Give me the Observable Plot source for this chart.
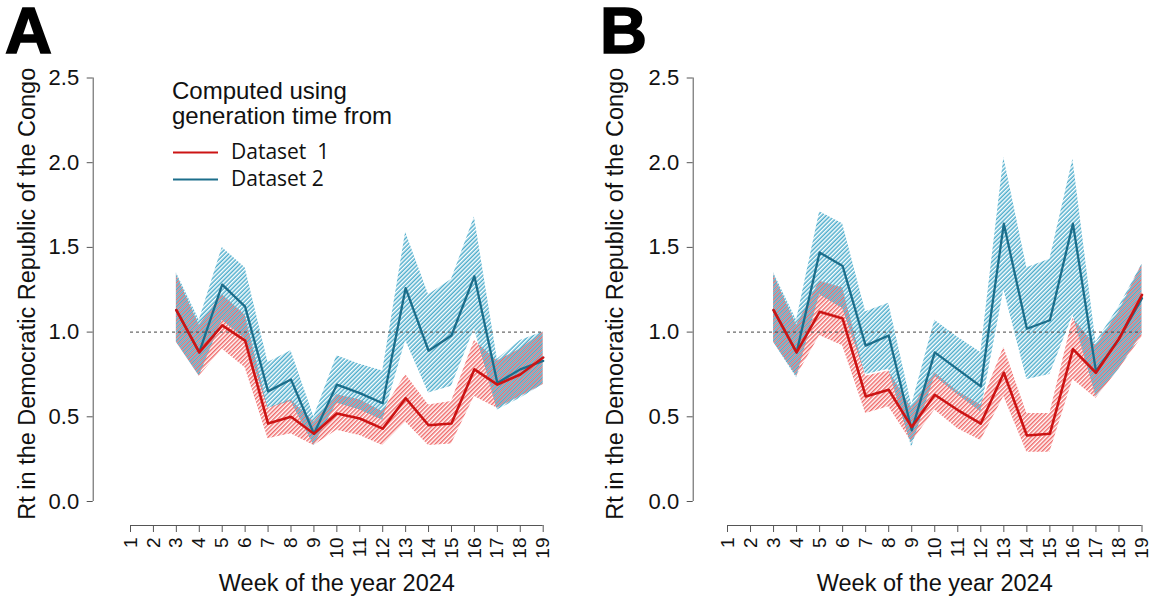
<!DOCTYPE html>
<html>
<head>
<meta charset="utf-8">
<script src="https://cdn.jsdelivr.net/npm/d3@7"></script>
<script src="https://cdn.jsdelivr.net/npm/@observablehq/plot@0.6"></script>
<style>
  body { margin: 0; background: #fff; }
  #wrap { position: relative; width: 1152px; height: 596px; overflow: hidden; }
  .panel { position: absolute; top: 0; width: 576px; height: 596px; }
  #ov { position: absolute; left: 0; top: 0; pointer-events: none; }
</style>
</head>
<body>
<div id="wrap">
  <div class="panel" id="pA" style="left:0"></div>
  <div class="panel" id="pB" style="left:576px"></div>
  <svg id="ov" width="1152" height="596"></svg>
</div>
<script>
// ---- data ----
const weeks = [3, 4, 5, 6, 7, 8, 9, 10, 11, 12, 13, 14, 15, 16, 17, 18, 19];
const weekTicks = [1, 2, 3, 4, 5, 6, 7, 8, 9, 10, 11, 12, 13, 14, 15, 16, 17, 18, 19];
const yTicks = [0, 0.5, 1.0, 1.5, 2.0, 2.5];
const threshold = [1];
const seriesNames = ["Dataset  1", "Dataset 2"];
const seriesColors = ["#cc1414", "#1c6e8b"];
const legendTitle = ["Computed using", "generation time from"];
const panelLetters = ["A", "B"];
const yTitle = "Rt in the Democratic Republic of the Congo";
const xTitle = "Week of the year 2024";

// Panel A
const A_d1_mean = [1.13, 0.88, 1.04, 0.95, 0.46, 0.50, 0.40, 0.52, 0.49, 0.43, 0.61, 0.45, 0.46, 0.78, 0.69, 0.75, 0.85];
const A_d1_lo   = [0.94, 0.74, 0.90, 0.79, 0.37, 0.40, 0.33, 0.42, 0.39, 0.33, 0.47, 0.33, 0.34, 0.62, 0.55, 0.62, 0.69];
const A_d1_hi   = [1.34, 1.04, 1.22, 1.10, 0.55, 0.60, 0.47, 0.63, 0.60, 0.53, 0.75, 0.57, 0.59, 0.95, 0.83, 0.90, 1.00];
const A_d2_mean = [1.13, 0.88, 1.28, 1.15, 0.65, 0.72, 0.40, 0.69, 0.64, 0.58, 1.26, 0.89, 0.98, 1.33, 0.70, 0.78, 0.83];
const A_d2_lo   = [0.94, 0.74, 1.07, 0.96, 0.55, 0.59, 0.33, 0.58, 0.54, 0.48, 0.95, 0.64, 0.68, 1.02, 0.54, 0.61, 0.69];
const A_d2_hi   = [1.35, 1.07, 1.50, 1.38, 0.82, 0.89, 0.50, 0.86, 0.81, 0.77, 1.59, 1.22, 1.31, 1.68, 0.84, 0.95, 1.00];
// Panel B
const B_d1_mean = [1.13, 0.88, 1.12, 1.08, 0.62, 0.66, 0.44, 0.63, 0.54, 0.46, 0.76, 0.39, 0.40, 0.90, 0.76, 0.96, 1.22];
const B_d1_lo   = [0.94, 0.74, 0.98, 0.92, 0.52, 0.56, 0.35, 0.54, 0.43, 0.36, 0.62, 0.29, 0.29, 0.72, 0.61, 0.78, 0.97];
const B_d1_hi   = [1.34, 1.04, 1.30, 1.26, 0.74, 0.77, 0.55, 0.76, 0.65, 0.57, 0.91, 0.52, 0.52, 1.08, 0.92, 1.12, 1.40];
const B_d2_mean = [1.13, 0.88, 1.47, 1.39, 0.92, 0.98, 0.42, 0.88, 0.78, 0.68, 1.64, 1.02, 1.07, 1.64, 0.77, 0.96, 1.20];
const B_d2_lo   = [0.94, 0.73, 1.22, 1.14, 0.75, 0.78, 0.32, 0.74, 0.63, 0.53, 1.25, 0.72, 0.75, 1.10, 0.62, 0.78, 0.99];
const B_d2_hi   = [1.35, 1.07, 1.71, 1.64, 1.12, 1.17, 0.57, 1.07, 0.97, 0.88, 2.03, 1.38, 1.43, 2.02, 0.94, 1.15, 1.40];

const FONT = "'Liberation Sans', Arial, Helvetica, sans-serif";
const NS = "http://www.w3.org/2000/svg";

function rows(m, lo, hi) {
  return weeks.map((w, i) => ({week: w, mean: m[i], lo: lo[i], hi: hi[i]}));
}

function defsMark(id) {
  return () => {
    const defs = document.createElementNS(NS, "defs");
    defs.innerHTML =
      `<pattern id="hr${id}" patternUnits="userSpaceOnUse" width="3" height="3" patternTransform="rotate(45)">
         <line x1="0.75" y1="0" x2="0.75" y2="3" stroke="#ee6262" stroke-width="1.5" stroke-opacity="0.95"/>
       </pattern>
       <pattern id="hb${id}" patternUnits="userSpaceOnUse" width="3" height="3" patternTransform="rotate(45)">
         <line x1="2.25" y1="0" x2="2.25" y2="3" stroke="#3aa3c6" stroke-width="1.5" stroke-opacity="0.9"/>
       </pattern>`;
    return defs;
  };
}

function panel(id, r1, r2, o) {
  return Plot.plot({
    width: 576, height: 596,
    marginLeft: o.ml, marginRight: o.mr, marginTop: 77.5, marginBottom: 71,
    insetLeft: o.il, insetBottom: 24,
    x: {domain: [weekTicks[0], weekTicks[weekTicks.length - 1]]},
    y: {domain: [yTicks[0], yTicks[yTicks.length - 1]]},
    style: {fontFamily: FONT, fontSize: "22px", color: "#111", overflow: "visible", background: "transparent"},
    marks: [
      defsMark(id),
      Plot.areaY(r1, {x: "week", y1: "lo", y2: "hi", fill: `url(#hr${id})`}),
      Plot.areaY(r2, {x: "week", y1: "lo", y2: "hi", fill: `url(#hb${id})`}),
      Plot.ruleY(threshold, {x1: weekTicks[0], x2: weekTicks[weekTicks.length - 1], stroke: "#444", strokeWidth: 1, strokeDasharray: "3,3"}),
      Plot.lineY(r2, {x: "week", y: "mean", stroke: seriesColors[1], strokeWidth: 2.3}),
      Plot.lineY(r1, {x: "week", y: "mean", stroke: seriesColors[0], strokeWidth: 2.6}),
      Plot.axisY({ticks: yTicks, tickFormat: d3.format(".1f"), tickSize: 6, tickPadding: 8, fontSize: 22, label: null, stroke: "#555"}),
      Plot.axisX({ticks: weekTicks, tickFormat: d => String(d), tickSize: 7, tickPadding: 5, tickRotate: -90, fontSize: 19, label: null, stroke: "#555"}),
      Plot.ruleX([weekTicks[0]], {y1: yTicks[0], y2: yTicks[yTicks.length - 1], dx: -o.il, stroke: "#555", strokeWidth: 1}),
      Plot.ruleY([yTicks[0]], {x1: weekTicks[0], x2: weekTicks[weekTicks.length - 1], dy: 24, stroke: "#555", strokeWidth: 1}),
      Plot.text([yTitle], {frameAnchor: "left", textAnchor: "middle", lineAnchor: "middle", text: d => d, rotate: -90, dx: o.tdx, dy: -8, fontSize: 23.5, fill: "#111"}),
      Plot.text([xTitle], {x: () => (weekTicks[0] + weekTicks[weekTicks.length - 1]) / 2, frameAnchor: "bottom", textAnchor: "middle", lineAnchor: "middle", text: d => d, dy: 57.5, fontSize: 23.5, fill: "#111"})
    ]
  });
}

document.getElementById("pA").appendChild(
  panel("A", rows(A_d1_mean, A_d1_lo, A_d1_hi), rows(A_d2_mean, A_d2_lo, A_d2_hi), {ml: 92.7, mr: 33.3, il: 37.3, tdx: -65.7})
);
document.getElementById("pB").appendChild(
  panel("B", rows(B_d1_mean, B_d1_lo, B_d1_hi), rows(B_d2_mean, B_d2_lo, B_d2_hi), {ml: 116.7, mr: 10.5, il: 34.3, tdx: -78})
);

// overlay: panel letters and legend
const ov = document.getElementById("ov");
function addText(x, y, txt, attrs) {
  const t = document.createElementNS(NS, "text");
  t.setAttribute("x", x); t.setAttribute("y", y);
  for (const k in attrs) t.setAttribute(k, attrs[k]);
  t.setAttribute("xml:space", "preserve");
  t.style.whiteSpace = "pre";
  t.textContent = txt;
  ov.appendChild(t);
}
[[5, 53], [600, 53]].forEach(([x, y], i) =>
  addText(x, y, panelLetters[i], {"font-family": FONT, "font-size": 65, "font-weight": "bold", fill: "#000", stroke: "#000", "stroke-width": 1.6}));
legendTitle.forEach((s, i) => addText(172, 99 + i * 24.5, s, {"font-family": FONT, "font-size": 24, fill: "#111"}));
seriesNames.forEach((s, i) => {
  const l = document.createElementNS(NS, "line");
  l.setAttribute("x1", 173); l.setAttribute("x2", 218);
  l.setAttribute("y1", 152.5 + i * 27); l.setAttribute("y2", 152.5 + i * 27);
  l.setAttribute("stroke", seriesColors[i]); l.setAttribute("stroke-width", 2);
  ov.appendChild(l);
  addText(231, 158.5 + i * 27, s, {"font-family": "'Open Sans', sans-serif", "font-size": 21, fill: "#111"});
});
</script>
</body>
</html>
